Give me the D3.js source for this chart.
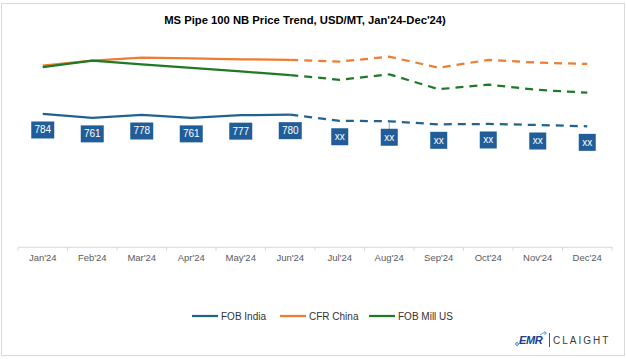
<!DOCTYPE html>
<html>
<head>
<meta charset="utf-8">
<script src="https://cdn.jsdelivr.net/npm/d3@7"></script>
<style>
  html, body { margin: 0; padding: 0; background: #ffffff; }
  svg { display: block; }
</style>
</head>
<body>
<svg id="chart" width="626" height="359"></svg>
<script>
// ---- data ----
const months = ["Jan'24","Feb'24","Mar'24","Apr'24","May'24","Jun'24","Jul'24","Aug'24","Sep'24","Oct'24","Nov'24","Dec'24"];
const fobIndia = [784, 761, 778, 761, 777, 780, 744, 741, 723, 725, 719, 711];
const cfrChina = [1069, 1099, 1116, 1112, 1107, 1103, 1093, 1122, 1057, 1103, 1087, 1079];
const fobMillUS = [1060, 1099, 1077, 1056, 1035, 1014, 986, 1018, 930, 957, 926, 910];
const indiaLabels = ["784","761","778","761","777","780","xx","xx","xx","xx","xx","xx"];
const seriesNames = ["FOB India", "CFR China", "FOB Mill US"];
const lastActualIndex = 5;   // Jun'24: solid up to here, dashed after
const yDomain = [0, 1200];
const titleText = "MS Pipe 100 NB Price Trend, USD/MT, Jan'24-Dec'24)";

// ---- setup ----
const svg = d3.select("#chart");
const colors = ["#22628f", "#ed7d31", "#1f7a26"];
const FONT = "'Liberation Sans', Arial, sans-serif";

// outer border
svg.append("rect")
  .attr("x", 1.5).attr("y", 3.5).attr("width", 623).attr("height", 352)
  .attr("fill", "#fff").attr("stroke", "#d9d9d9").attr("stroke-width", 1);

// title
const title = svg.append("text")
  .attr("x", 305).attr("y", 24)
  .attr("text-anchor", "middle")
  .attr("font-family", FONT).attr("font-weight", "bold")
  .attr("font-size", 11).attr("fill", "#000")
  .text(titleText);
{
  const len = title.node().getComputedTextLength();
  if (len > 0) title.attr("font-size", (11 * 282 / len).toFixed(2));
}

const x = d3.scaleBand().domain(months).range([18, 612]).padding(0);
const y = d3.scaleLinear().domain(yDomain).range([246.8, 43.5]);
const cx = m => x(m) + x.bandwidth() / 2;

// x axis
const axisG = svg.append("g").attr("transform", `translate(0,${y(0)})`)
  .call(d3.axisBottom(x).tickSize(0).tickPadding(7));
axisG.select(".domain").attr("stroke", "#d9d9d9").attr("stroke-width", 1);
axisG.selectAll(".tick text")
  .attr("font-family", FONT).attr("font-size", 9.5).attr("fill", "#595959");
const edges = months.map(m => x(m)).concat([x(months[months.length - 1]) + x.bandwidth()]);
axisG.selectAll("line.edge").data(edges).enter().append("line")
  .attr("class", "edge")
  .attr("x1", d => d).attr("x2", d => d)
  .attr("y1", 0).attr("y2", 4)
  .attr("stroke", "#d9d9d9").attr("stroke-width", 1);

// lines
const allSeries = [fobIndia, cfrChina, fobMillUS];
const line = d3.line().x(d => cx(d.m)).y(d => y(d.v)).curve(d3.curveLinear);
allSeries.forEach((vals, si) => {
  const pts = vals.map((v, i) => ({ m: months[i], v }));
  svg.append("path")
    .datum(pts.slice(0, lastActualIndex + 1))
    .attr("d", line)
    .attr("fill", "none").attr("stroke", colors[si])
    .attr("stroke-width", 2.25).attr("stroke-linejoin", "round");
  svg.append("path")
    .datum(pts.slice(lastActualIndex))
    .attr("d", line)
    .attr("fill", "none").attr("stroke", colors[si])
    .attr("stroke-width", 2.25).attr("stroke-dasharray", "8,6");
});

// leader line (Aug label)
{
  const i = 7;
  svg.append("line")
    .attr("x1", cx(months[i])).attr("x2", cx(months[i]))
    .attr("y1", y(fobIndia[i]) + 1).attr("y2", y(fobIndia[i]) + 8)
    .attr("stroke", "#a6a6a6").attr("stroke-width", 1);
}

// data labels for FOB India
const labG = svg.append("g");
indiaLabels.forEach((lab, i) => {
  const px = cx(months[i]);
  const py = y(fobIndia[i]) + 16;
  const w = lab.length >= 3 ? 23 : 17;
  labG.append("rect")
    .attr("x", px - w / 2).attr("y", py - 8.5)
    .attr("width", w).attr("height", 17)
    .attr("fill", "#215e99");
  labG.append("text")
    .attr("x", px).attr("y", py + 3.5)
    .attr("text-anchor", "middle")
    .attr("font-family", FONT).attr("font-size", 10)
    .attr("fill", "#ffffff")
    .text(lab);
});

// legend
const legendX = [192, 280, 369];
const legendY = 316;
seriesNames.forEach((name, i) => {
  svg.append("line")
    .attr("x1", legendX[i]).attr("x2", legendX[i] + 26)
    .attr("y1", legendY).attr("y2", legendY)
    .attr("stroke", colors[i]).attr("stroke-width", 2.25);
  svg.append("text")
    .attr("x", legendX[i] + 29).attr("y", legendY + 3.5)
    .attr("font-family", FONT).attr("font-size", 10).attr("fill", "#333")
    .text(name);
});

// logo
const logo = svg.append("g");
logo.append("text")
  .attr("x", 519).attr("y", 344)
  .attr("font-family", FONT).attr("font-weight", "bold").attr("font-style", "italic")
  .attr("font-size", 11).attr("fill", "#1b3f8b").attr("letter-spacing", -0.4)
  .text("EMR");
logo.append("circle").attr("cx", 517).attr("cy", 344).attr("r", 1.4)
  .attr("fill", "none").attr("stroke", "#2b78c2").attr("stroke-width", 0.9);
logo.append("path").attr("d", "M540,335 Q543,332 546,333 M544,331.5 L546.5,333 L544.5,335")
  .attr("fill", "none").attr("stroke", "#4a9ad8").attr("stroke-width", 0.9);
logo.append("line").attr("x1", 549.5).attr("x2", 549.5).attr("y1", 333).attr("y2", 347)
  .attr("stroke", "#555").attr("stroke-width", 1);
logo.append("text")
  .attr("x", 553).attr("y", 344)
  .attr("font-family", FONT).attr("font-size", 10).attr("fill", "#3a3a3a")
  .attr("letter-spacing", 2)
  .text("CLAIGHT");
</script>
</body>
</html>
